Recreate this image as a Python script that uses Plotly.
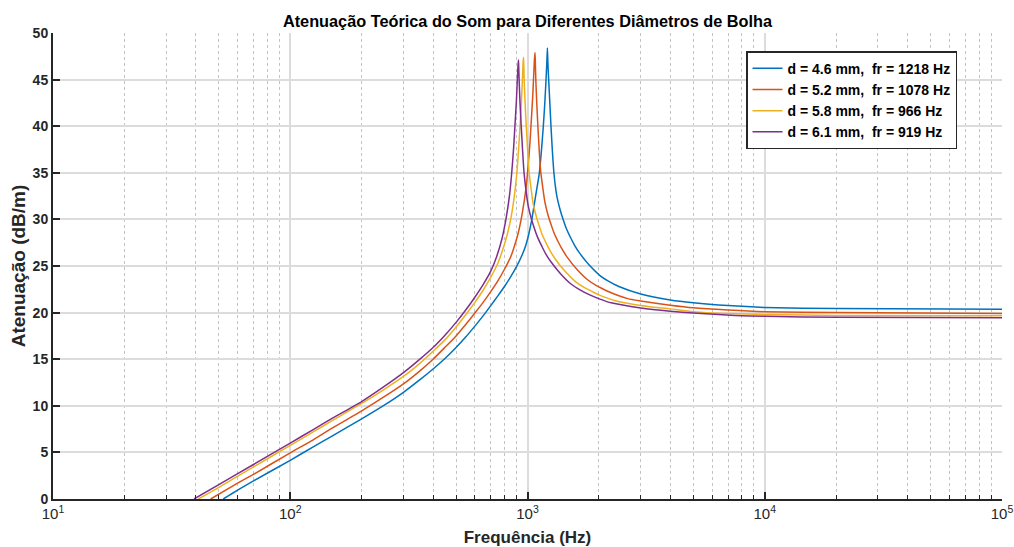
import plotly.graph_objects as go

# ---- data ----
freq_46 = [52.2, 60, 70, 100, 125, 150, 200, 250, 300, 350, 400, 450, 500, 550, 600, 650, 700, 750, 800, 850,
           900, 950, 983, 1010, 1043, 1080, 1122, 1145, 1166, 1183, 1197, 1207, 1213,
           1220, 1228, 1242, 1256, 1272, 1292, 1310, 1334, 1377, 1417, 1456, 1522, 1577, 1662, 1820,
           2014, 2183, 2426, 3000, 4000, 5000, 7000, 10000, 20000, 100000]
att_46 = [0, 0.95, 1.95, 4.15, 5.6, 6.75, 8.6, 10.1, 11.45, 12.75, 13.95, 15.1, 16.25, 17.4, 18.55, 19.65, 20.75, 21.8, 22.8, 23.85,
          24.95, 26.2, 27.2, 28.3, 30.0, 32.4, 35.0, 37.4, 40.0, 42.5, 45.0, 47.0, 48.4,
          46.5, 45.0, 42.5, 40.0, 37.5, 35.0, 33.6, 32.3, 30.9, 29.9, 29.05, 28.0, 27.25, 26.35, 25.1,
          24.0, 23.4, 22.8, 22.0, 21.35, 21.05, 20.75, 20.55, 20.43, 20.35]

freq_52 = [46.2, 60, 70, 100, 125, 150, 200, 250, 300, 350, 400, 450, 500, 550, 600, 650, 700, 750, 800, 850,
           871, 915, 951, 985, 1006, 1024, 1038, 1052, 1063, 1070, 1076,
           1080, 1084, 1094, 1106, 1120, 1136, 1162, 1184, 1221, 1257, 1291, 1350, 1399, 1474, 1614,
           1786, 1937, 2021, 2152, 2647, 3000, 4000, 5000, 7000, 10000, 20000, 100000]
att_52 = [0, 1.7, 2.65, 4.95, 6.35, 7.6, 9.45, 11.0, 12.35, 13.7, 15.0, 16.3, 17.5, 18.75, 19.95, 21.1, 22.25, 23.4, 24.65, 26.0,
          26.75, 28.6, 30.7, 33.3, 35.7, 38.2, 40.7, 43.2, 45.7, 47.2, 47.9,
          46.5, 45.0, 42.5, 40.0, 37.5, 35.2, 33.25, 31.85, 30.45, 29.45, 28.6, 27.55, 26.8, 25.9, 24.65,
          23.55, 22.95, 22.7, 22.35, 21.5, 21.25, 20.8, 20.52, 20.28, 20.1, 20.0, 19.9]

freq_58 = [41.0, 50, 70, 100, 125, 150, 200, 250, 300, 350, 400, 450, 500, 550, 600, 650, 700, 750, 783, 820,
           852, 880, 902, 917, 930, 942, 952, 958, 962,
           965, 968, 977, 988, 1001, 1016, 1039, 1058, 1092, 1124, 1154, 1207, 1251, 1318, 1443,
           1597, 1732, 1924, 2021, 2367, 3000, 4000, 5000, 7000, 10000, 20000, 100000]
att_58 = [0, 1.25, 3.45, 5.75, 7.2, 8.4, 10.25, 11.8, 13.15, 14.5, 15.85, 17.1, 18.45, 19.8, 21.1, 22.4, 23.8, 25.3, 26.6, 28.3,
          30.2, 32.5, 35.0, 37.5, 40.0, 42.5, 45.0, 46.8, 47.4,
          46.5, 45.0, 42.5, 40.0, 37.5, 35.0, 33.0, 31.6, 30.2, 29.2, 28.35, 27.3, 26.55, 25.65, 24.4,
          23.3, 22.7, 22.1, 21.85, 21.25, 20.77, 20.4, 20.1, 19.9, 19.8, 19.7, 19.65]

freq_61 = [39.3, 50, 70, 100, 125, 150, 200, 250, 300, 350, 400, 450, 500, 550, 600, 650, 700, 741, 780, 811,
           840, 858, 873, 885, 897, 906, 912, 916,
           918, 922, 930, 941, 953, 967, 989, 1008, 1040, 1070, 1100, 1150, 1190, 1255, 1375,
           1520, 1650, 1830, 2021, 2250, 3000, 4000, 5000, 7500, 10000, 20000, 100000]
att_61 = [0, 1.55, 3.7, 6.0, 7.45, 8.65, 10.45, 12.1, 13.55, 14.95, 16.25, 17.6, 18.95, 20.3, 21.65, 23.0, 24.45, 26.0, 27.9, 30.0,
          32.6, 35.0, 37.5, 40.0, 42.5, 45.0, 46.5, 47.1,
          46.5, 45.0, 42.5, 40.0, 37.5, 35.0, 32.8, 31.4, 30.0, 29.0, 28.15, 27.1, 26.35, 25.45, 24.2,
          23.1, 22.5, 21.9, 21.45, 21.05, 20.5, 20.15, 19.95, 19.7, 19.6, 19.5, 19.45]

series_labels = ["d = 4.6 mm,  fr = 1218 Hz", "d = 5.2 mm,  fr = 1078 Hz",
                 "d = 5.8 mm,  fr = 966 Hz", "d = 6.1 mm,  fr = 919 Hz"]

x_tickvals = [10, 100, 1000, 10000, 100000]
x_ticktext = ["10<sup>1</sup>", "10<sup>2</sup>", "10<sup>3</sup>", "10<sup>4</sup>", "10<sup>5</sup>"]
x_minor = [m * 10 ** k for k in range(1, 5) for m in range(2, 10)]
y_tickvals = [0, 5, 10, 15, 20, 25, 30, 35, 40, 45, 50]

title_text = "Atenuação Teórica do Som para Diferentes Diâmetros de Bolha"
x_title = "Frequência (Hz)"
y_title = "Atenuação (dB/m)"

colors = ["#0072BD", "#D95319", "#EDB120", "#7E2F8E"]
FONT = "Liberation Sans, Arial, sans-serif"
DARK = "#262626"

fig = go.Figure()
for fx, ay, lab, col in zip([freq_46, freq_52, freq_58, freq_61],
                            [att_46, att_52, att_58, att_61], series_labels, colors):
    fig.add_trace(go.Scatter(x=fx, y=ay, mode="lines", name=lab,
                             line=dict(color=col, width=1.5, shape="spline", smoothing=0.6)))

fig.update_layout(
    width=1014, height=547,
    margin=dict(l=53, r=12, t=33, b=48, autoexpand=False),
    paper_bgcolor="white", plot_bgcolor="white",
    font=dict(family=FONT, color=DARK),
    title=dict(text="<b>" + title_text + "</b>", x=0.5, xref="paper", xanchor="center",
               y=1 - 21 / 547, yref="container", yanchor="middle",
               font=dict(size=16.3, color="black")),
    legend=dict(x=0.9526, y=0.961, xanchor="right", yanchor="top",
                bgcolor="white", bordercolor=DARK, borderwidth=1.5,
                font=dict(size=14, color="black", weight="bold"),
                tracegroupgap=0),
    showlegend=True,
)

fig.update_xaxes(
    type="log", range=[1, 5], automargin=False,
    tickmode="array", tickvals=x_tickvals, ticktext=x_ticktext,
    ticks="inside", ticklen=7, tickwidth=1.5, tickcolor=DARK,
    tickfont=dict(size=15, color=DARK),
    showline=True, linecolor=DARK, linewidth=2, mirror=False,
    showgrid=True, gridcolor="#dcdcdc", gridwidth=1.5,
    zeroline=False,
    minor=dict(tickvals=x_minor, ticks="inside", ticklen=4, tickwidth=1.2, tickcolor=DARK,
               showgrid=True, gridcolor="#c4c4c4", gridwidth=1, griddash="dot"),
    title=dict(text="<b>" + x_title + "</b>", font=dict(size=17, color=DARK), standoff=11),
)

fig.update_yaxes(
    range=[0, 50], automargin=False,
    tickmode="array", tickvals=y_tickvals,
    ticks="inside", ticklen=7, tickwidth=1.5, tickcolor=DARK,
    tickfont=dict(size=14, color=DARK, weight="bold"),
    showline=True, linecolor=DARK, linewidth=2, mirror=False,
    showgrid=True, gridcolor="#dcdcdc", gridwidth=1.5,
    zeroline=False,
    title=dict(text="<b>" + y_title + "</b>", font=dict(size=19, color=DARK), standoff=2),
)

fig.write_html("out.html", config={"displayModeBar": False},
               post_script="document.body.style.margin='0';")
